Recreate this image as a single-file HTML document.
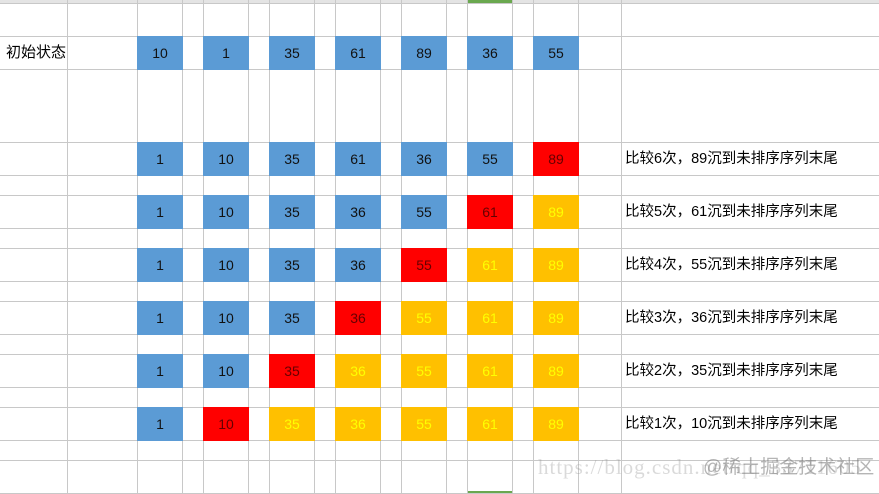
<!DOCTYPE html>
<html><head><meta charset="utf-8"><style>
body{margin:0;width:879px;height:494px;overflow:hidden;background:#fff;position:relative;font-family:"Liberation Sans","Noto Sans CJK SC",sans-serif}
.h{position:absolute;left:0;width:879px;height:1px;background:#c8c8c8}
.v{position:absolute;top:0;height:494px;width:1px;background:#c8c8c8}
.b{position:absolute;width:46px;height:34px;line-height:34px;text-align:center;font-size:14px;color:#111}
.bl{background:#5b9bd5}.rd{background:#ff0000;color:#600}.or{background:#ffc000;color:#ffff00}
.t{position:absolute;font-size:14.5px;color:#000;line-height:34px;height:34px}
.wm{position:absolute;left:538px;top:455px;font-family:"Liberation Serif",serif;font-size:21px;color:rgba(150,150,150,0.35);letter-spacing:1px}
.wm2{position:absolute;left:703px;top:452px;font-size:19px;color:rgba(120,120,120,0.55)}
</style></head><body>
<div style="position:absolute;left:0;top:0;width:879px;height:3px;background:#e4e4e4"></div>
<div style="position:absolute;left:467px;top:0;width:46px;height:3px;background:#6aa84f"></div>
<div style="position:absolute;left:467px;top:491px;width:46px;height:3px;background:#6aa84f"></div>
<div class="h" style="top:3px"></div>
<div class="h" style="top:36px"></div><div class="h" style="top:69px"></div>
<div class="h" style="top:142px"></div><div class="h" style="top:175px"></div>
<div class="h" style="top:195px"></div><div class="h" style="top:228px"></div>
<div class="h" style="top:248px"></div><div class="h" style="top:281px"></div>
<div class="h" style="top:301px"></div><div class="h" style="top:334px"></div>
<div class="h" style="top:354px"></div><div class="h" style="top:387px"></div>
<div class="h" style="top:407px"></div><div class="h" style="top:440px"></div>
<div class="h" style="top:460px"></div><div class="h" style="top:493px"></div>
<div class="v" style="left:67px"></div><div class="v" style="left:137px"></div><div class="v" style="left:182px"></div>
<div class="v" style="left:203px"></div><div class="v" style="left:248px"></div><div class="v" style="left:269px"></div>
<div class="v" style="left:314px"></div><div class="v" style="left:335px"></div><div class="v" style="left:380px"></div>
<div class="v" style="left:401px"></div><div class="v" style="left:446px"></div><div class="v" style="left:467px"></div>
<div class="v" style="left:512px"></div><div class="v" style="left:533px"></div><div class="v" style="left:578px"></div>
<div class="v" style="left:621px"></div>

<div class="t" style="left:6px;top:36px;font-size:15px">初始状态</div>
<div class="b bl" style="left:137px;top:36px">10</div><div class="b bl" style="left:203px;top:36px">1</div><div class="b bl" style="left:269px;top:36px">35</div><div class="b bl" style="left:335px;top:36px">61</div><div class="b bl" style="left:401px;top:36px">89</div><div class="b bl" style="left:467px;top:36px">36</div><div class="b bl" style="left:533px;top:36px">55</div>

<div class="b bl" style="left:137px;top:142px">1</div><div class="b bl" style="left:203px;top:142px">10</div><div class="b bl" style="left:269px;top:142px">35</div><div class="b bl" style="left:335px;top:142px">61</div><div class="b bl" style="left:401px;top:142px">36</div><div class="b bl" style="left:467px;top:142px">55</div><div class="b rd" style="left:533px;top:142px">89</div>
<div class="t" style="left:625px;top:142px">比较6次，89沉到未排序序列末尾</div>

<div class="b bl" style="left:137px;top:195px">1</div><div class="b bl" style="left:203px;top:195px">10</div><div class="b bl" style="left:269px;top:195px">35</div><div class="b bl" style="left:335px;top:195px">36</div><div class="b bl" style="left:401px;top:195px">55</div><div class="b rd" style="left:467px;top:195px">61</div><div class="b or" style="left:533px;top:195px">89</div>
<div class="t" style="left:625px;top:195px">比较5次，61沉到未排序序列末尾</div>

<div class="b bl" style="left:137px;top:248px">1</div><div class="b bl" style="left:203px;top:248px">10</div><div class="b bl" style="left:269px;top:248px">35</div><div class="b bl" style="left:335px;top:248px">36</div><div class="b rd" style="left:401px;top:248px">55</div><div class="b or" style="left:467px;top:248px">61</div><div class="b or" style="left:533px;top:248px">89</div>
<div class="t" style="left:625px;top:248px">比较4次，55沉到未排序序列末尾</div>

<div class="b bl" style="left:137px;top:301px">1</div><div class="b bl" style="left:203px;top:301px">10</div><div class="b bl" style="left:269px;top:301px">35</div><div class="b rd" style="left:335px;top:301px">36</div><div class="b or" style="left:401px;top:301px">55</div><div class="b or" style="left:467px;top:301px">61</div><div class="b or" style="left:533px;top:301px">89</div>
<div class="t" style="left:625px;top:301px">比较3次，36沉到未排序序列末尾</div>

<div class="b bl" style="left:137px;top:354px">1</div><div class="b bl" style="left:203px;top:354px">10</div><div class="b rd" style="left:269px;top:354px">35</div><div class="b or" style="left:335px;top:354px">36</div><div class="b or" style="left:401px;top:354px">55</div><div class="b or" style="left:467px;top:354px">61</div><div class="b or" style="left:533px;top:354px">89</div>
<div class="t" style="left:625px;top:354px">比较2次，35沉到未排序序列末尾</div>

<div class="b bl" style="left:137px;top:407px">1</div><div class="b rd" style="left:203px;top:407px">10</div><div class="b or" style="left:269px;top:407px">35</div><div class="b or" style="left:335px;top:407px">36</div><div class="b or" style="left:401px;top:407px">55</div><div class="b or" style="left:467px;top:407px">61</div><div class="b or" style="left:533px;top:407px">89</div>
<div class="t" style="left:625px;top:407px">比较1次，10沉到未排序序列末尾</div>

<div class="wm">https://blog.csdn.net/qq_33711605</div>
<div class="wm2">@稀土掘金技术社区</div>
</body></html>
